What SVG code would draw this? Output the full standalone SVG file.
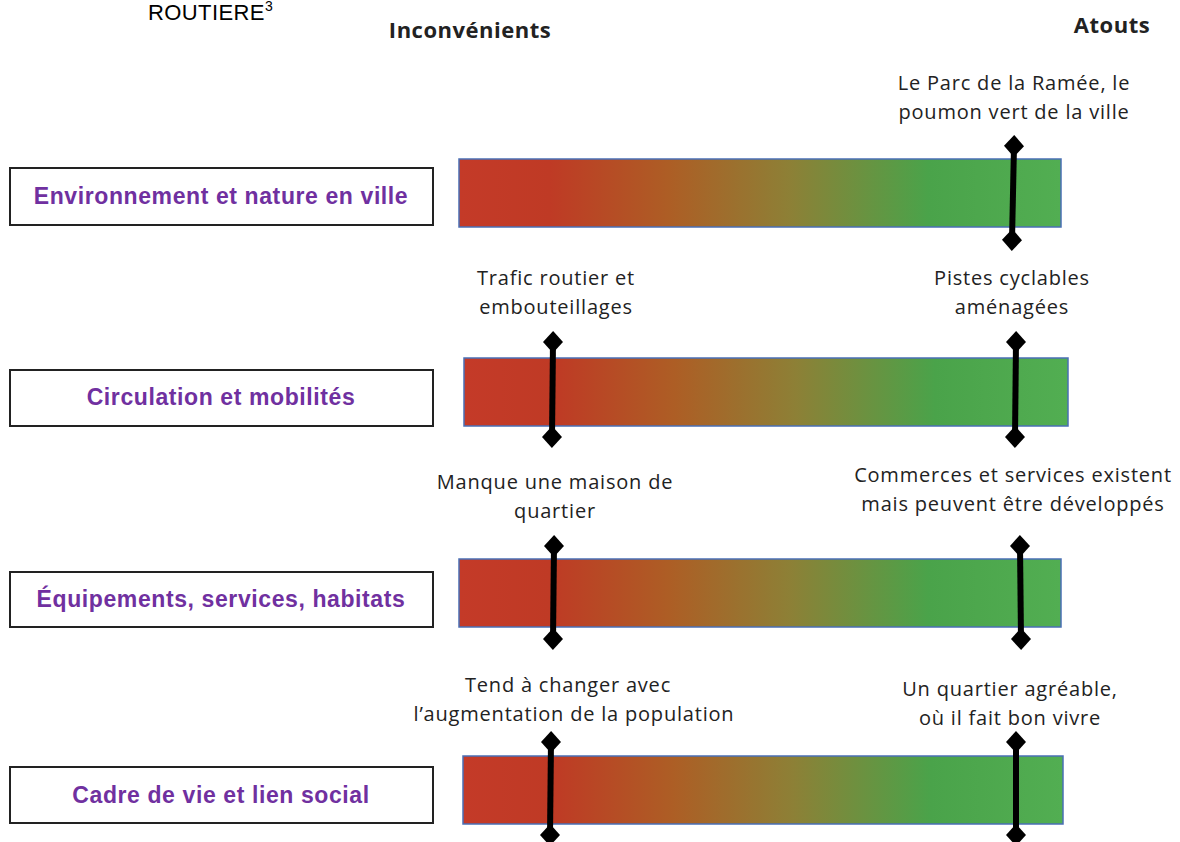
<svg xmlns="http://www.w3.org/2000/svg" width="1180" height="842" viewBox="0 0 1180 842">
<style>
.lbl{fill:#fff;stroke:#222;stroke-width:2}
.lt{font-family:"Liberation Sans",Arial,sans-serif;font-weight:bold;font-size:23px;letter-spacing:0.6px;fill:#7030A0;text-anchor:middle}
.bar{fill:url(#g);stroke:#4a6fb5;stroke-width:1.5}
.ann{font-family:"Open Sans","Liberation Sans",sans-serif;font-size:20px;letter-spacing:0.8px;fill:#222;text-anchor:middle}
.hd{font-family:"Open Sans","Liberation Sans",sans-serif;font-weight:bold;font-size:22px;letter-spacing:0.5px;fill:#222;text-anchor:middle}
.mk{stroke:#000;stroke-width:6;marker-start:url(#d);marker-end:url(#d)}
</style>
<defs>
<linearGradient id="g" x1="0" y1="0" x2="1" y2="0">
<stop offset="0" stop-color="#C43A28"/>
<stop offset="0.15" stop-color="#BF3A25"/>
<stop offset="0.35" stop-color="#AD5E25"/>
<stop offset="0.55" stop-color="#8D8036"/>
<stop offset="0.78" stop-color="#4AA34A"/>
<stop offset="1" stop-color="#52AE52"/>
</linearGradient>
<marker id="d" viewBox="-12 -12 24 24" markerWidth="24" markerHeight="24" markerUnits="userSpaceOnUse" refX="0" refY="0" orient="auto">
<polygon points="-11,0 0,-10 11,0 0,10" fill="#000"/>
</marker>
</defs>
<text x="148" y="20" font-family="Liberation Sans,Arial,sans-serif" font-size="22" letter-spacing="0.4" fill="#000">ROUTIERE<tspan font-size="14" dy="-9">3</tspan></text>
<text class="hd" x="470" y="38">Inconvénients</text>
<text class="hd" x="1112" y="33">Atouts</text>

<g id="row1">
<rect class="lbl" x="10" y="168" width="423" height="57"/>
<text class="lt" x="221" y="204">Environnement et nature en ville</text>
<rect class="bar" x="459" y="159" width="602" height="68"/>
</g>
<g id="row2">
<rect class="lbl" x="10" y="370" width="423" height="56"/>
<text class="lt" x="221" y="405">Circulation et mobilités</text>
<rect class="bar" x="464" y="358" width="604" height="68"/>
</g>
<g id="row3">
<rect class="lbl" x="10" y="572" width="423" height="55"/>
<text class="lt" x="221" y="607">Équipements, services, habitats</text>
<rect class="bar" x="459" y="559" width="602" height="68"/>
</g>
<g id="row4">
<rect class="lbl" x="10" y="767" width="423" height="56"/>
<text class="lt" x="221" y="803">Cadre de vie et lien social</text>
<rect class="bar" x="463" y="756" width="600" height="68"/>
</g>

<g id="connectors">
<line class="mk" x1="1014" y1="146" x2="1012" y2="240"/>
<line class="mk" x1="553" y1="342" x2="552" y2="437"/>
<line class="mk" x1="1016" y1="342" x2="1015" y2="437"/>
<line class="mk" x1="554" y1="546" x2="553" y2="639"/>
<line class="mk" x1="1020" y1="546" x2="1021" y2="639"/>
<line class="mk" x1="551" y1="742" x2="550" y2="835"/>
<line class="mk" x1="1016" y1="742" x2="1016" y2="835"/>
</g>

<g id="annotations">
<text class="ann" x="1014" y="90">Le Parc de la Ramée, le</text>
<text class="ann" x="1014" y="119">poumon vert de la ville</text>
<text class="ann" x="556" y="285">Trafic routier et</text>
<text class="ann" x="556" y="314">embouteillages</text>
<text class="ann" x="1012" y="285">Pistes cyclables</text>
<text class="ann" x="1012" y="314">aménagées</text>
<text class="ann" x="555" y="489">Manque une maison de</text>
<text class="ann" x="555" y="518">quartier</text>
<text class="ann" x="1013" y="482">Commerces et services existent</text>
<text class="ann" x="1013" y="511">mais peuvent être développés</text>
<text class="ann" x="568" y="692">Tend à changer avec</text>
<text class="ann" x="574" y="721">l’augmentation de la population</text>
<text class="ann" x="1010" y="696">Un quartier agréable,</text>
<text class="ann" x="1010" y="725">où il fait bon vivre</text>
</g>
</svg>
